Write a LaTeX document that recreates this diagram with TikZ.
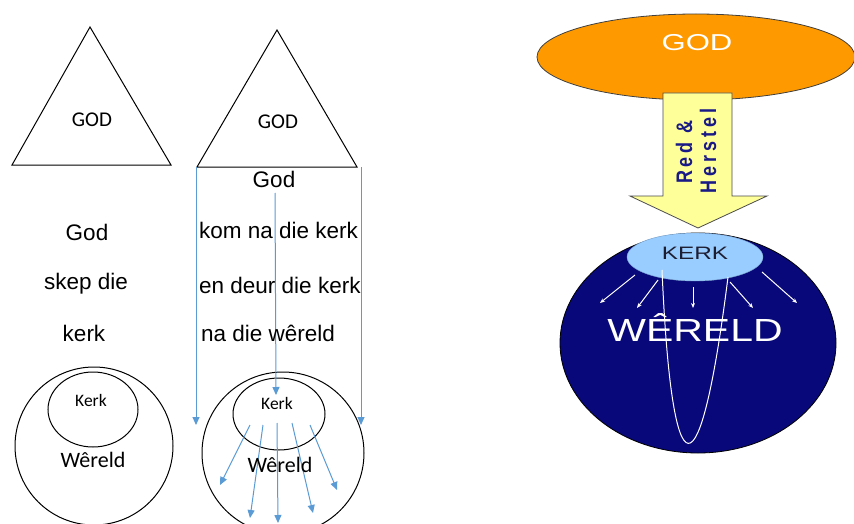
\documentclass[tikz,border=0pt]{standalone}
\usepackage{fontspec}
\setmainfont{Liberation Sans}
\newfontfamily\calfont{Carlito}
\newfontfamily\spacedfont[LetterSpace=22]{Liberation Sans Bold}
\usetikzlibrary{arrows.meta,shapes.geometric}
\definecolor{arrblue}{RGB}{91,155,213}
\definecolor{godorange}{RGB}{255,153,0}
\definecolor{arrowyellow}{RGB}{255,255,153}
\definecolor{worldnavy}{RGB}{8,8,122}
\definecolor{kerkblue}{RGB}{153,204,255}
\definecolor{textnavy}{RGB}{25,25,135}
\definecolor{kerktext}{RGB}{30,30,50}
\tikzset{
  shapeline/.style={draw=black,line width=1pt},
  bluearrow/.style={draw=arrblue,line width=1pt,-{Triangle[length=8pt,width=7pt]}},
  whitearrow/.style={draw=white,line width=1pt,-{Stealth[length=5pt,width=4pt]}},
  bigtext/.style={font=\fontsize{22.5}{26}\selectfont,inner sep=0pt},
  tritext/.style={font=\calfont\fontsize{21}{24}\selectfont,inner sep=0pt},
  kerksmall/.style={font=\calfont\fontsize{17.5}{20}\selectfont,inner sep=0pt},
  wereldsmall/.style={font=\calfont\fontsize{22}{25}\selectfont,inner sep=0pt},
  circ/.style={shapeline,ellipse,inner sep=0pt},
  arrowlabel/.style={rotate=90,inner sep=0pt,text=textnavy,font=\spacedfont\fontsize{18}{20}\selectfont},
}
\begin{document}
\begin{tikzpicture}[x=1pt,y=-1pt]
\useasboundingbox (0,0) rectangle (854,524);
\fill[white] (0,0) rectangle (854,524);

% ---------- first column ----------
\coordinate (t1a) at (90,27);
\coordinate (t1l) at (12,165);
\coordinate (t1r) at (171,165);
\draw[shapeline,line join=miter] (t1a) -- (t1l) -- (t1r) -- cycle;
\node[tritext] (god1) at (92,120) {GOD};
\node[bigtext] (c1a) at (87,232) {God};
\node[bigtext] (c1b) at (86,284) {skep die};
\node[bigtext] (c1c) at (84,333) {kerk};
\node[circ,minimum width=158pt,minimum height=158pt] (wor1) at (94,446) {};
\node[circ,minimum width=90pt,minimum height=75pt] (ker1) at (93,409.5) {};
\node[kerksmall] (ker1t) at (91,400) {Kerk};
\node[wereldsmall] (wor1t) at (93,460) {Wêreld};

% ---------- second column ----------
\coordinate (t2a) at (277,30);
\coordinate (t2l) at (197,167);
\coordinate (t2r) at (357,167);
\draw[shapeline,line join=miter] (t2a) -- (t2l) -- (t2r) -- cycle;
\node[tritext] (god2) at (278,122) {GOD};
\node[circ,minimum width=162pt,minimum height=162pt] (wor2) at (283,453) {};
\node[circ,minimum width=92pt,minimum height=72pt] (ker2) at (279,414) {};

\coordinate (lstart) at (196,167);
\coordinate (lend) at (196,425);
\coordinate (rstart) at (361,167);
\coordinate (rend) at (361,425);
\coordinate (mstart) at (275,193);
\coordinate (mend) at (276,395);
\draw[bluearrow] (lstart) -- (lend);
\draw[bluearrow] (rstart) -- (rend);
\draw[bluearrow] (mstart) -- (mend);

\coordinate (s1) at (250,425); \coordinate (e1) at (220,485);
\coordinate (s2) at (263,425); \coordinate (e2) at (250,518);
\coordinate (s3) at (277,423); \coordinate (e3) at (278,523);
\coordinate (s4) at (292,423); \coordinate (e4) at (313,513);
\coordinate (s5) at (310,425); \coordinate (e5) at (337,490);
\foreach \i in {1,...,5} {\draw[bluearrow] (s\i) -- (e\i);}

\node[bigtext] (c2god) at (274,179) {God};
\node[bigtext,anchor=west] (c2a) at (199,230) {kom na die kerk};
\node[bigtext,anchor=west] (c2b) at (199,285) {en deur die kerk};
\node[bigtext,anchor=west] (c2c) at (201,333) {na die wêreld};
\node[kerksmall] (ker2t) at (277,403) {Kerk};
\node[wereldsmall] (wor2t) at (280,465) {Wêreld};

% ---------- right picture ----------
\node[ellipse,fill=godorange,draw=black!75,line width=0.8pt,minimum width=318pt,minimum height=86pt,inner sep=0pt] (godE) at (696,57) {};
\node[text=white,inner sep=0pt,font=\fontsize{23}{26}\selectfont] (godT) at (697,43) {\scalebox{1.35}[1]{GOD}};

\draw[fill=arrowyellow,draw=black!70,line width=0.8pt,line join=miter]
  (663,93) -- (732,93) -- (732,196) -- (767,196) -- (698,228) -- (630,196) -- (663,196) -- cycle;
\node[arrowlabel] (redT) at (684,152) {\scalebox{1}[1.25]{Red \&}};
\node[arrowlabel] (herT) at (708,151) {\scalebox{1}[1.25]{Herstel}};

\node[ellipse,fill=worldnavy,draw=black,line width=0.8pt,minimum width=276pt,minimum height=220pt,inner sep=0pt] (worE) at (698,343) {};
\node[ellipse,fill=kerkblue,draw=kerkblue!80!black,line width=0.4pt,minimum width=136pt,minimum height=48pt,inner sep=0pt] (kerE) at (695,257) {};
\node[text=kerktext,inner sep=0pt,font=\fontsize{18}{20}\selectfont] (kerT) at (695,253) {\scalebox{1.35}[1]{KERK}};

\coordinate (w1s) at (635,275); \coordinate (w1e) at (600,303);
\coordinate (w2s) at (658,280); \coordinate (w2e) at (637,308);
\coordinate (w3s) at (693,287); \coordinate (w3e) at (693,308);
\coordinate (w4s) at (730,282); \coordinate (w4e) at (753,308);
\coordinate (w5s) at (762,272); \coordinate (w5e) at (797,303);
\foreach \i in {1,...,5} {\draw[whitearrow] (w\i s) -- (w\i e);}

\node[text=white,inner sep=0pt,font=\fontsize{32}{36}\selectfont] (worT) at (695,328) {\scalebox{1.28}[1]{WÊRELD}};

\coordinate (vs) at (662,270);
\coordinate (ve) at (728,277);
\draw[white,line width=1pt] (vs) .. controls (672,500) and (700,500) .. (ve);
\end{tikzpicture}
\end{document}
